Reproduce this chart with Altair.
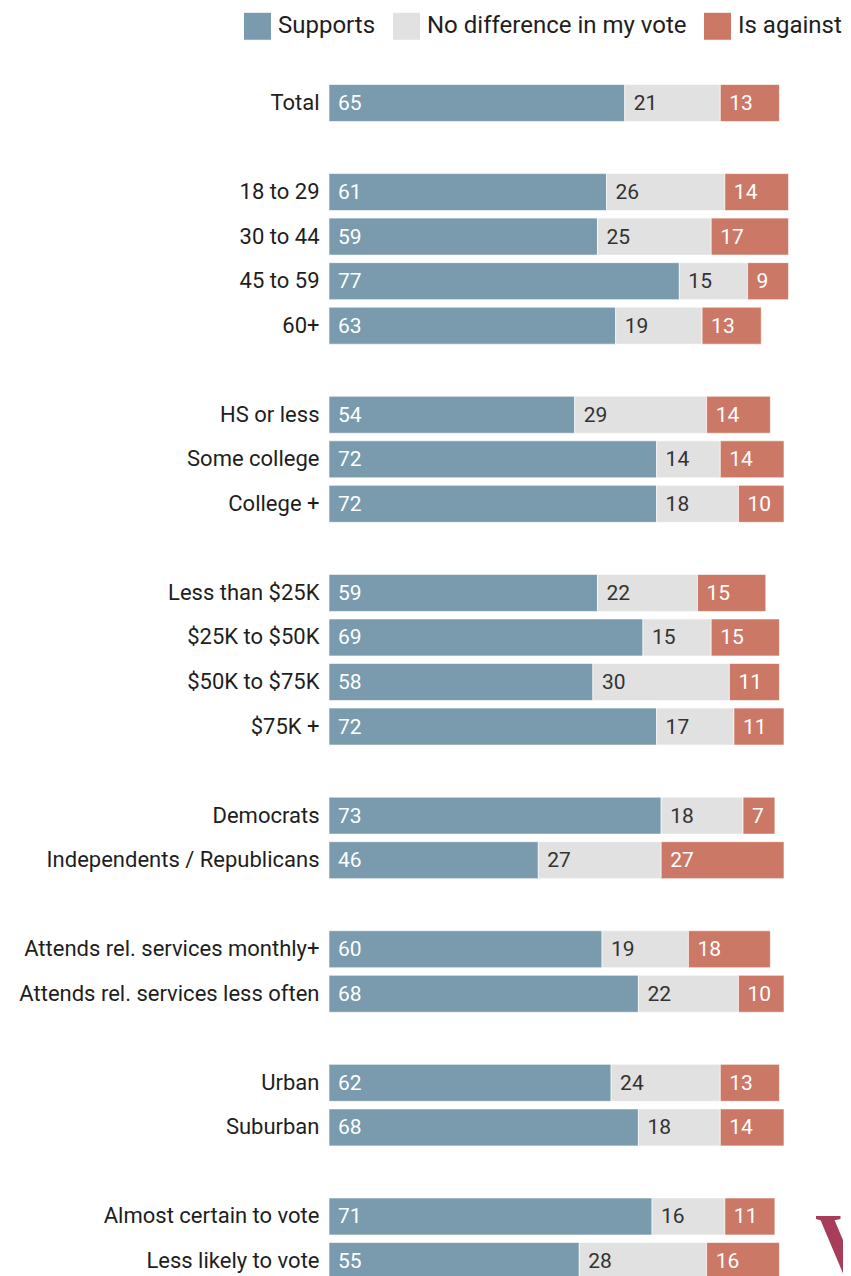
import altair as alt
import pandas as pd

categories = ["Total",
              "18 to 29", "30 to 44", "45 to 59", "60+",
              "HS or less", "Some college", "College +",
              "Less than $25K", "$25K to $50K", "$50K to $75K", "$75K +",
              "Democrats", "Independents / Republicans",
              "Attends rel. services monthly+", "Attends rel. services less often",
              "Urban", "Suburban",
              "Almost certain to vote", "Less likely to vote"]
group_sizes = [1, 4, 3, 4, 2, 2, 2, 2]
supports = [65, 61, 59, 77, 63, 54, 72, 72, 59, 69, 58, 72, 73, 46, 60, 68, 62, 68, 71, 55]
no_diff = [21, 26, 25, 15, 19, 29, 14, 18, 22, 15, 30, 17, 18, 27, 19, 22, 24, 18, 16, 28]
against = [13, 14, 17, 9, 13, 14, 14, 10, 15, 15, 11, 11, 7, 27, 18, 10, 13, 14, 11, 16]
series = ["Supports", "No difference in my vote", "Is against"]
colors = ["#7a9aad", "#e1e1e1", "#cb7866"]
text_colors = ["#ffffff", "#333333", "#ffffff"]

# row order with blank spacer rows between groups
rows = []
i = 0
for g, n in enumerate(group_sizes):
    if g > 0:
        rows.append(" " * g)
    for _ in range(n):
        rows.append(categories[i])
        i += 1

recs = []
for k, cat in enumerate(categories):
    for s, vals in enumerate([supports, no_diff, against]):
        recs.append({"row": cat, "series": series[s], "order": s,
                     "value": vals[k], "tcolor": text_colors[s]})
df = pd.DataFrame(recs)

base = alt.Chart(df).transform_stack(
    stack="value", groupby=["row"], as_=["x0", "x1"],
    sort=[alt.SortField("order", order="ascending")]
)

yenc = alt.Y("row:N", sort=rows, scale=alt.Scale(domain=rows, paddingInner=0.17, paddingOuter=0),
             axis=alt.Axis(title=None, domain=False, ticks=False, labelFontSize=22,
                           labelFont="Roboto", labelColor="#1e1e1e", labelPadding=10,
                           labelLimit=0))
xscale = alt.Scale(domain=[0, 100])

bars = base.mark_bar(stroke="#ffffff", strokeWidth=1, strokeOpacity=0.6).encode(
    x=alt.X("x0:Q", scale=xscale, axis=None),
    x2="x1:Q",
    y=yenc,
    color=alt.Color("series:N", sort=series,
                    scale=alt.Scale(domain=series, range=colors),
                    legend=alt.Legend(title=None, orient="none", direction="horizontal",
                                      legendX=-86, legendY=-73, padding=0,
                                      symbolType="square", symbolSize=784,
                                      symbolStrokeColor="#ffffff", symbolStrokeWidth=1,
                                      labelFontSize=24, labelFont="Roboto",
                                      labelColor="#1e1e1e", labelOffset=6,
                                      columnPadding=14, labelLimit=0)),
)

labels = base.mark_text(align="left", baseline="middle", dx=9, dy=1,
                        fontSize=21, font="Roboto").encode(
    x=alt.X("x0:Q", scale=xscale, axis=None),
    y=yenc,
    text="value:Q",
    color=alt.Color("tcolor:N", scale=None, legend=None),
)

logo = alt.Chart(pd.DataFrame({"t": ["V"]})).mark_text(
    font="Liberation Serif", fontSize=86, fontWeight="bold", color="#a83d59",
    align="left", baseline="alphabetic"
).encode(x=alt.value(486), y=alt.value(1188), text="t:N")

chart = alt.layer(bars, labels, logo).properties(
    width=455, height=1195,
    autosize=alt.AutoSizeParams(type="none"),
    padding={"left": 321, "top": 76.5, "right": 59, "bottom": 0},
).configure_view(stroke=None)

chart.save("out.html", embed_options={"renderer": "svg", "actions": False})
